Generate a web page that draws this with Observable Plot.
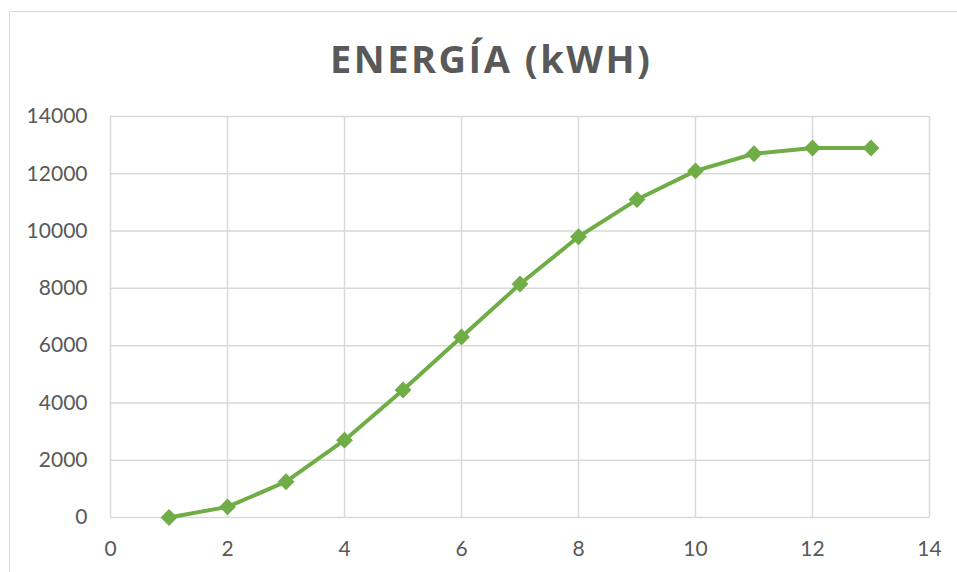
<!DOCTYPE html>
<html>
<head>
<meta charset="utf-8">
<script src="https://cdn.jsdelivr.net/npm/d3@7"></script>
<script src="https://cdn.jsdelivr.net/npm/@observablehq/plot@0.6"></script>
<style>
  html, body { margin: 0; padding: 0; background: #fff; overflow: hidden; }
  body { width: 957px; height: 572px; position: relative; }
  #frame { position: absolute; left: 9px; top: 11px; width: 962px; height: 600px;
           border: 1px solid #d9d9d9; box-sizing: border-box; }
  #title { position: absolute; left: 9px; width: 962px; top: 39px; text-align: center;
           font-family: "Open Sans", sans-serif; font-weight: bold; font-size: 38px; line-height: 38px;
           letter-spacing: 2.5px; padding-left: 2.5px; box-sizing: border-box; color: #595959; }
  #chart { position: absolute; left: 0; top: 90px; }
</style>
</head>
<body>
<div id="frame"></div>
<div id="title">ENERGÍA (kWH)</div>
<div id="chart"></div>
<script>
const xValues = [1, 2, 3, 4, 5, 6, 7, 8, 9, 10, 11, 12, 13];
const energy = [0, 370, 1250, 2700, 4450, 6300, 8150, 9800, 11100, 12100, 12700, 12900, 12900];
const xTicks = [0, 2, 4, 6, 8, 10, 12, 14];
const yTicks = [0, 2000, 4000, 6000, 8000, 10000, 12000, 14000];

const data = xValues.map((x, i) => ({x, y: energy[i]}));
const grid = {stroke: "#d9d9d9", strokeOpacity: 1, strokeWidth: 1.5};

const chart = Plot.plot({
  width: 957,
  height: 477,
  marginLeft: 110,
  marginRight: 28,
  marginTop: 26,
  marginBottom: 50,
  x: {domain: [0, 14], label: null},
  y: {domain: [0, 14000], label: null},
  style: {fontFamily: "Lato, sans-serif", fontSize: "21px", color: "#595959", background: "transparent", overflow: "visible"},
  marks: [
    Plot.gridX(xTicks, grid),
    Plot.gridY(yTicks, grid),
    Plot.axisX({ticks: xTicks, tickSize: 0, tickPadding: 24, label: null, tickFormat: d3.format("d")}),
    Plot.axisY({ticks: yTicks, tickSize: 0, tickPadding: 23, label: null, tickFormat: d3.format("d")}),
    Plot.line(data, {x: "x", y: "y", stroke: "#70ad47", strokeWidth: 4}),
    Plot.dot(data, {x: "x", y: "y", symbol: "diamond2", r: 7.6, fill: "#70ad47", stroke: "none"})
  ]
});
document.getElementById("chart").appendChild(chart);
</script>
</body>
</html>
